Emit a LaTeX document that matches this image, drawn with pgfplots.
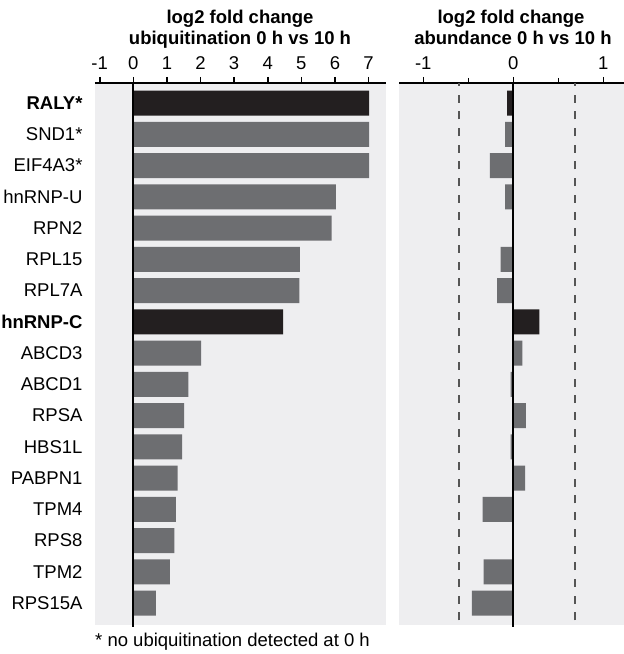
\documentclass[border=0pt]{standalone}
\usepackage{fontspec}
\setmainfont{Liberation Sans}
\usepackage{pgfplots}
\pgfplotsset{compat=1.18}
\definecolor{bggray}{HTML}{EEEEF0}
\definecolor{darkbar}{HTML}{231F20}
\definecolor{graybar}{HTML}{6D6E71}
\definecolor{dashgray}{HTML}{555555}
\newcommand{\ff}{\fontsize{18.5}{22}\selectfont}
\begin{document}
\begin{tikzpicture}
\useasboundingbox (0,0) rectangle (624pt,654pt);
\pgfplotsset{
  common/.style={
    scale only axis, anchor=south west, height=542pt,
    ymin=-0.70, ymax=16.64,
    xbar, bar width=25pt, bar shift=0pt,
    axis background/.style={fill=bggray},
    axis x line*=top, axis y line*=left,
    x axis line style={-, line width=1.6pt, black},
    y axis line style={draw=none},
    ytick style={draw=none},
    xtick style={line width=1.6pt, black},
    major tick length=6pt, minor tick length=5pt,
    tick align=outside,
    tick label style={font=\ff},
    xticklabel style={yshift=4pt},
    /pgf/number format/assume math mode=true,
    clip=false,
  }
}
\begin{axis}[common, at={(95pt,29pt)}, width=291pt,
  xmin=-1.14, xmax=7.52,
  xtick={-1,0,1,2,3,4,5,6,7},
  ytick={0,...,16},
  yticklabels={RPS15A,TPM2,RPS8,TPM4,PABPN1,HBS1L,RPSA,ABCD1,ABCD3,\textbf{hnRNP-C},RPL7A,RPL15,RPN2,hnRNP-U,EIF4A3*,SND1*,\textbf{RALY*}},
  yticklabel style={xshift=-3pt},
]
\addplot[fill=darkbar, draw=none] coordinates {(7.02,16) (4.46,9)};
\addplot[fill=graybar, draw=none] coordinates {
 (7.02,15) (7.02,14) (6.03,13) (5.90,12) (4.96,11) (4.94,10)
 (2.02,8) (1.64,7) (1.51,6) (1.45,5) (1.32,4) (1.27,3) (1.22,2) (1.09,1) (0.67,0)};
\draw[line width=1.8pt, black] (axis cs:0,-0.76) -- (axis cs:0,16.64);
\end{axis}
\begin{axis}[common, at={(399pt,29pt)}, width=225pt,
  xmin=-1.27, xmax=1.23,
  xtick={-1,0,1}, minor xtick={-0.5,0.5},
  minor tick style={line width=1.6pt, black},
  ytick=\empty,
]
\draw[line width=2pt, dashgray, dash pattern=on 8pt off 8.7pt] (axis cs:-0.6,-0.55) -- (axis cs:-0.6,16.64);
\draw[line width=2pt, dashgray, dash pattern=on 8pt off 8.7pt] (axis cs:0.685,-0.55) -- (axis cs:0.685,16.64);
\addplot[fill=darkbar, draw=none] coordinates {(-0.07,16) (0.29,9)};
\addplot[fill=graybar, draw=none] coordinates {
 (-0.09,15) (-0.26,14) (-0.09,13) (-0.01,12) (-0.14,11) (-0.18,10)
 (0.10,8) (-0.03,7) (0.14,6) (-0.03,5) (0.13,4) (-0.34,3) (-0.01,2) (-0.33,1) (-0.46,0)};
\draw[line width=1.8pt, black] (axis cs:0,-0.76) -- (axis cs:0,16.64);
\end{axis}
\node[font=\bfseries\ff, anchor=base] at (240pt,630pt) {log2 fold change};
\node[font=\bfseries\ff, anchor=base] at (240pt,609pt) {ubiquitination 0 h vs 10 h};
\node[font=\bfseries\ff, anchor=base] at (511pt,630pt) {log2 fold change};
\node[font=\bfseries\ff, anchor=base] at (513pt,609pt) {abundance 0 h vs 10 h};
\node[font=\ff, anchor=base west, inner sep=0pt] at (95pt,7pt) {* no ubiquitination detected at 0 h};
\end{tikzpicture}
\end{document}
